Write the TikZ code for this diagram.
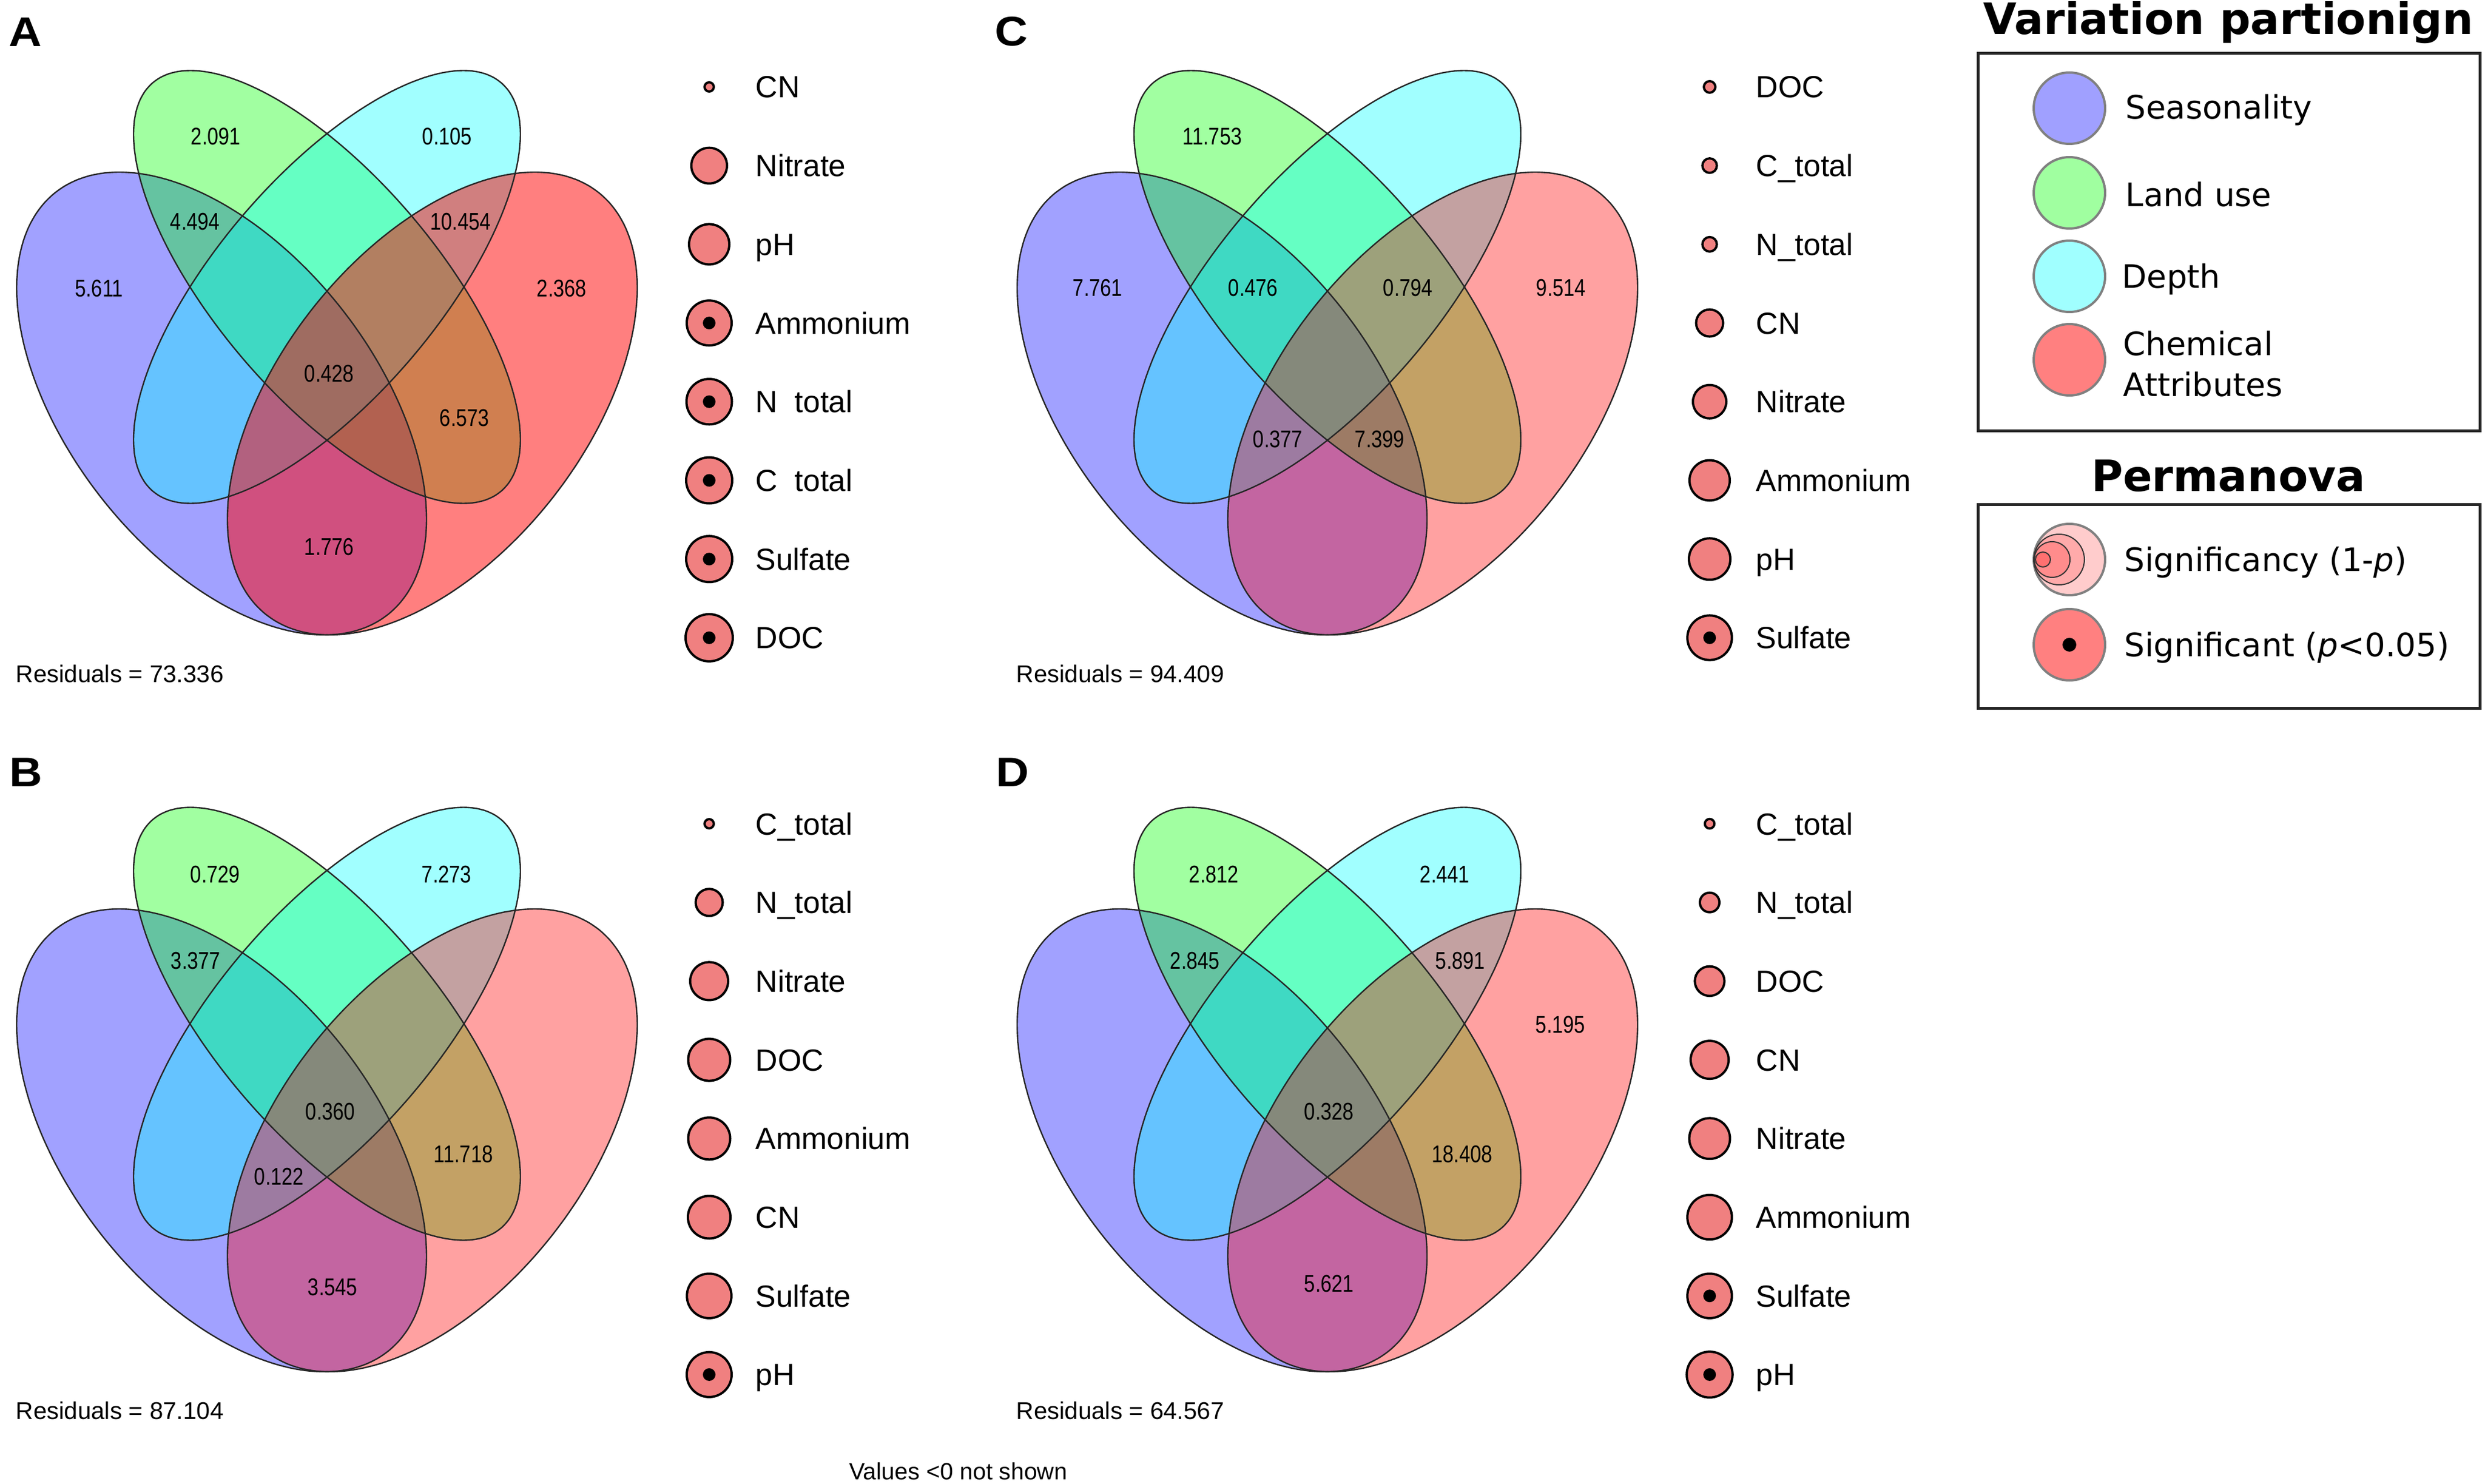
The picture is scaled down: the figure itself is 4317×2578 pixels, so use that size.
\documentclass[tikz,border=0pt]{standalone}
\usepackage{fontspec}
\setmainfont{Liberation Sans}
\newfontfamily\narrowsans[FakeStretch=0.82]{Liberation Sans}
\newfontfamily\lettersans[FakeStretch=1.1]{Liberation Sans}
\newfontfamily\verd{DejaVu Sans}
\definecolor{vblue}{RGB}{0,0,255}
\definecolor{vgreen}{RGB}{0,255,0}
\definecolor{vcyan}{RGB}{0,255,255}
\definecolor{vred}{RGB}{255,0,0}
\definecolor{coral}{RGB}{240,128,128}
\definecolor{lseason}{RGB}{160,160,255}
\definecolor{lland}{RGB}{160,255,160}
\definecolor{ldepth}{RGB}{160,255,255}
\definecolor{lchem}{RGB}{255,128,128}
\definecolor{sig1}{RGB}{255,204,204}
\definecolor{sig2}{RGB}{255,170,170}
\definecolor{sig3}{RGB}{255,140,140}
\definecolor{sig4}{RGB}{255,112,112}
\tikzset{
  vnum/.style={anchor=base, inner sep=0pt, font=\narrowsans\fontsize{10.5}{12}\selectfont},
  resid/.style={anchor=base west, inner sep=0pt, font=\fontsize{10.5}{12}\selectfont},
  leglab/.style={anchor=base west, inner sep=0pt, font=\fontsize{13.3}{15}\selectfont},
  panlab/.style={anchor=base west, inner sep=0pt, font=\lettersans\bfseries\fontsize{18}{20}\selectfont},
  vout/.style={draw=black!85, line width=0.6pt},
  legc/.style={draw=black, line width=1pt, fill=coral},
  boxline/.style={draw=black!85, line width=1.25pt},
  rtitle/.style={anchor=base, inner sep=0pt, font=\verd\bfseries\fontsize{18.75}{22}\selectfont},
  rlab/.style={anchor=base west, inner sep=0pt, font=\verd\fontsize{14}{16}\selectfont},
  rcirc/.style={draw=black!50, line width=1pt},
  botnote/.style={anchor=base, inner sep=0pt, font=\fontsize{10.25}{12}\selectfont}
}
% cx, cy, W, H, phi, style
\newcommand{\vennell}[6]{%
  \path[#6] plot[smooth cycle, domain=0:355, samples=72] ({#1+#3*cos(\x)},{#2-#4*sin(\x+#5)});}
% #1 offset, #2 red opacity, #3 id, #4 legend list, #5 numbers list, #6 residual
\newcommand{\vennpanel}[6]{%
\begin{scope}[shift={#1}]
  \vennell{385}{701}{356}{402}{-30}{fill=vblue, fill opacity=0.37}
  \vennell{568}{498.5}{336}{376}{-44.9}{fill=vgreen, fill opacity=0.37}
  \vennell{568}{498.5}{336}{376}{44.9}{fill=vcyan, fill opacity=0.37}
  \vennell{751}{701}{356}{402}{30}{fill=vred, fill opacity=#2}
  \vennell{385}{701}{356}{402}{-30}{vout}
  \vennell{568}{498.5}{336}{376}{-44.9}{vout}
  \vennell{568}{498.5}{336}{376}{44.9}{vout}
  \vennell{751}{701}{356}{402}{30}{vout}
  \foreach \xx/\yy/\tx [count=\i] in {#5} {\node[vnum] (num#3\i) at (\xx,\yy+15) {\tx};}
  \node[resid] (res#3) at (27,1185) {Residuals = #6};
  \foreach \lab/\rr/\dt [count=\i from 0] in {#4} {
    \draw[legc] (1232,151+\i*136.7) circle[radius=\rr];
    \ifnum\dt=1 \fill[black] (1232,151+\i*136.7) circle[radius=11];\fi
    \node[leglab] (leg#3\i) at (1312,170+\i*136.7) {\lab};
  }
\end{scope}}
\begin{document}
\begin{tikzpicture}[x=0.25pt,y=-0.25pt]
\fill[white] (0,0) rectangle (4317,2578);
\useasboundingbox (0,0) rectangle (4317,2578);

\vennpanel{(0,0)}{0.5}{A}
  {CN/8/0, Nitrate/31/0, pH/35/0, Ammonium/39/1, {N\phantom{\_}total}/39.5/1, {C\phantom{\_}total}/40/1, Sulfate/40/1, DOC/41/1}
  {375/237/2.091, 777/237/0.105, 339/385/4.494, 800/385/10.454, 172/501/5.611, 976/501/2.368, 572/649/0.428, 807/726/6.573, 572/949/1.776}
  {73.336}
\vennpanel{(0,1280)}{0.37}{B}
  {C\_total/8/0, N\_total/23.5/0, Nitrate/33/0, DOC/36.5/0, Ammonium/36.5/0, CN/37/0, Sulfate/38.7/0, pH/39/1}
  {374/238/0.729, 776/238/7.273, 340/388/3.377, 574/650/0.360, 805/724/11.718, 485/763/0.122, 578/955/3.545}
  {87.104}
\vennpanel{(1738,0)}{0.37}{C}
  {DOC/10/0, C\_total/12.6/0, N\_total/12.6/0, CN/23.5/0, Nitrate/29/0, Ammonium/35/0, pH/36/0, Sulfate/38.7/1}
  {368/237/11.753, 169/500/7.761, 439/500/0.476, 708/500/0.794, 974/500/9.514, 482/762/0.377, 659/762/7.399}
  {94.409}
\vennpanel{(1738,1280)}{0.37}{D}
  {C\_total/8.3/0, N\_total/17/0, DOC/25.7/0, CN/33/0, Nitrate/35.4/0, Ammonium/38.7/0, Sulfate/38.7/1, pH/39.8/1}
  {371/238/2.812, 772/238/2.441, 338/388/2.845, 799/388/5.891, 973/499/5.195, 571/650/0.328, 802/724/18.408, 571/949/5.621}
  {64.567}

\node[panlab] (pA) at (15,81) {A};
\node[panlab] (pB) at (16,1366) {B};
\node[panlab] (pC) at (1728,80) {C};
\node[panlab] (pD) at (1730,1366) {D};

\node[botnote] (note) at (1665,2570) {Values <0 not shown};

% right legend: variation partitioning
\node[rtitle] (vtitle) at (3871,60) {Variation partionign};
\draw[boxline] (3436,93) rectangle (4308,748);
\draw[rcirc, fill=lseason] (3595,188) circle[radius=62];
\draw[rcirc, fill=lland] (3595,335) circle[radius=62];
\draw[rcirc, fill=ldepth] (3595,480) circle[radius=62];
\draw[rcirc, fill=lchem] (3595,625) circle[radius=62];
\node[rlab] (lseas) at (3692,207) {Seasonality};
\node[rlab] (lland) at (3692,359) {Land use};
\node[rlab] (ldep) at (3686,501) {Depth};
\node[rlab] (lchem1) at (3688,618) {Chemical};
\node[rlab] (lchem2) at (3688,688) {Attributes};

% right legend: permanova
\node[rtitle] (ptitle) at (3871,853) {Permanova};
\draw[boxline] (3436,876) rectangle (4308,1230);
\draw[rcirc, fill=sig1] (3595,972) circle[radius=62];
\draw[draw=black!80, line width=0.5pt, fill=sig2] (3577,972) circle[radius=44];
\draw[draw=black!80, line width=0.5pt, fill=sig3] (3565,972) circle[radius=31];
\draw[draw=black!80, line width=0.5pt, fill=sig4] (3549,972) circle[radius=13];
\draw[rcirc, fill=lchem] (3595,1120) circle[radius=62];
\fill[black] (3595,1120) circle[radius=12];
\node[rlab] (lsig1) at (3690,992) {Significancy (1-\textit{p})};
\node[rlab] (lsig2) at (3690,1140) {Significant (\textit{p}<0.05)};
\end{tikzpicture}
\end{document}
